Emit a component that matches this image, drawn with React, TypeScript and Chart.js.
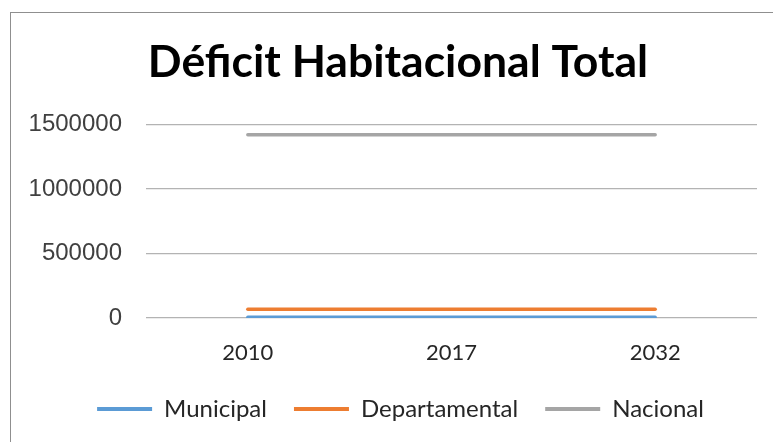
import React, { useEffect, useRef } from "react";
import { Chart, registerables } from "chart.js";

Chart.register(...registerables);

const categories = ["2010", "2017", "2032"];
const municipal = [5000, 5000, 5000];
const departamental = [67000, 67000, 67000];
const nacional = [1420000, 1420000, 1420000];
const yTicks = [0, 500000, 1000000, 1500000];

const boxShift = {
  id: "boxShift",
  afterLayout(c: any) {
    if (c.legend) {
      c.legend.left += 44;
      if (c.legend.legendHitBoxes) c.legend.legendHitBoxes.forEach((h: any) => { h.left += 22; });
    }
    if (c.titleBlock) {
      c.titleBlock.left += 39;
    }
  },
};

export default function App() {
  const ref = useRef<HTMLCanvasElement | null>(null);

  useEffect(() => {
    if (!ref.current) return;
    const chart = new Chart(ref.current, {
      type: "line",
      data: {
        labels: categories,
        datasets: [
          { label: "Municipal", data: municipal, borderColor: "#5b9bd5", backgroundColor: "#5b9bd5" },
          { label: "Departamental", data: departamental, borderColor: "#ed7d31", backgroundColor: "#ed7d31" },
          { label: "Nacional", data: nacional, borderColor: "#a5a5a5", backgroundColor: "#a5a5a5" },
        ],
      },
      plugins: [boxShift],
      options: {
        responsive: false,
        animation: false,
        devicePixelRatio: 1,
        elements: {
          point: { radius: 0, hoverRadius: 0 },
          line: { borderWidth: 3.5, borderCapStyle: "round", tension: 0 },
        },
        layout: { padding: { top: 14, left: 0, right: 16, bottom: 11 } },
        plugins: {
          title: {
            display: true,
            text: "Déficit Habitacional Total",
            color: "#000000",
            font: { family: "Lato", size: 44.5, weight: "bold" },
            padding: { top: 22, bottom: 35 },
          },
          legend: {
            position: "bottom",
            labels: {
              boxWidth: 55,
              boxHeight: 4,
              padding: 27,
              color: "#262626",
              font: { family: "Lato", size: 24 },
              generateLabels: (c: any) =>
                c.data.datasets.map((d: any, i: number) => ({
                  text: d.label,
                  fillStyle: d.borderColor,
                  strokeStyle: d.borderColor,
                  lineWidth: 0,
                  hidden: false,
                  datasetIndex: i,
                  fontColor: "#262626",
                })),
            },
          },
          tooltip: { enabled: false },
        },
        scales: {
          x: {
            offset: true,
            grid: { display: false, drawTicks: false },
            border: { display: false },
            ticks: { color: "#262626", font: { family: "Lato", size: 22 }, padding: 22 },
            afterFit: (s: any) => { s.height = 52; },
          },
          y: {
            min: 0,
            max: 1500000,
            grid: { color: "#b3b3b3", lineWidth: 1.3, drawTicks: false },
            border: { display: false },
            afterBuildTicks: (s: any) => { s.ticks = yTicks.map((v) => ({ value: v })); },
            ticks: {
              color: "#404040",
              font: { family: "Liberation Sans", size: 24 },
              padding: 24,
              callback: (v: any) => String(v),
            },
            afterFit: (s: any) => { s.width = 146; },
          },
        },
      },
    });
    return () => chart.destroy();
  }, []);

  return (
    <div style={{ position: "absolute", left: 0, top: 0, width: 773, height: 442, overflow: "hidden", background: "#fff" }}>
      <div style={{ position: "absolute", left: 10, top: 12, width: 900, height: 600, border: "1.5px solid #8f8f8f", boxSizing: "border-box" }} />
      <canvas ref={ref} width={773} height={442} style={{ position: "absolute", left: 0, top: 0, width: 773, height: 442 }} />
    </div>
  );
}
